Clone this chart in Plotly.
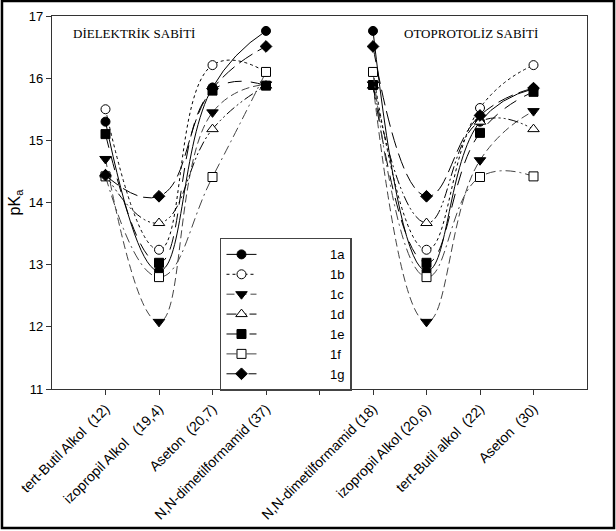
import plotly.graph_objects as go

# Categories (x positions 0..8, position 4 is an empty gap)
tick_vals = [0, 1, 2, 3, 5, 6, 7, 8]
tick_labels = [
    "tert-Butil Alkol  (12)",
    "izopropil Alkol   (19,4)",
    "Aseton  (20,7)",
    "N,N-dimetilformamid (37)",
    "N,N-dimetilformamid (18)",
    "izopropil Alkol (20,6)",
    "tert-Butil alkol  (22)",
    "Aseton  (30)",
]
x_left = [0, 1, 2, 3]
x_right = [5, 6, 7, 8]

series_names = ["1a", "1b", "1c", "1d", "1e", "1f", "1g"]

# Dielectric-constant ordering: tBuOH, iPrOH, Aseton, DMF
left_1a = [15.30, 12.90, 15.85, 16.76]
left_1b = [15.50, 13.24, 16.21, 16.10]
left_1c = [14.70, 12.08, 15.45, 15.90]
left_1d = [14.45, 13.67, 15.18, 15.88]
left_1e = [15.10, 13.03, 15.80, 15.88]
left_1f = [14.42, 12.80, 14.41, 16.10]
left_1g = [14.44, 14.10, 15.83, 16.51]

# Autoprotolysis ordering: DMF, iPrOH, tBuOH, Aseton
right_1a = [16.76, 12.90, 15.30, 15.83]
right_1b = [16.10, 13.24, 15.52, 16.21]
right_1c = [15.90, 12.08, 14.68, 15.47]
right_1d = [15.88, 13.67, 15.30, 15.18]
right_1e = [15.89, 13.03, 15.12, 15.78]
right_1f = [16.10, 12.80, 14.41, 14.42]
right_1g = [16.51, 14.10, 15.40, 15.84]

left_vals = [left_1a, left_1b, left_1c, left_1d, left_1e, left_1f, left_1g]
right_vals = [right_1a, right_1b, right_1c, right_1d, right_1e, right_1f, right_1g]

styles = [
    dict(dash="solid", symbol="circle", fill="black", lc="black"),
    dict(dash="dot", symbol="circle", fill="white", lc="black"),
    dict(dash="8px,4px", symbol="triangle-down", fill="black", lc="#444"),
    dict(dash="10px,3px,2px,3px,2px,3px", symbol="triangle-up", fill="white", lc="black"),
    dict(dash="14px,9px", symbol="square", fill="black", lc="black"),
    dict(dash="10px,4px,2px,4px", symbol="square", fill="white", lc="#444"),
    dict(dash="16px,6px", symbol="diamond", fill="black", lc="black"),
]

pad = "\u00a0" * 19
fig = go.Figure()
for name, lv, rv, st in zip(series_names, left_vals, right_vals, styles):
    for xs, ys, show in ((x_left, lv, True), (x_right, rv, False)):
        fig.add_trace(go.Scatter(
            x=xs, y=ys, name=pad + name, legendgroup=name, showlegend=show,
            mode="lines+markers",
            line=dict(color=st["lc"], width=1, dash=st["dash"], shape="spline", smoothing=1.3),
            marker=dict(symbol=st["symbol"], size=10 if "triangle" in st["symbol"] else 9,
                        color=st["fill"], line=dict(color="black", width=1)),
        ))

axis_color = "#333333"
sans = "Liberation Sans, Arial, sans-serif"
fig.update_layout(
    width=616, height=531,
    margin=dict(l=52, r=29, t=16, b=142),
    paper_bgcolor="white", plot_bgcolor="white",
    font=dict(family=sans, color="black", size=12),
    xaxis=dict(range=[-1, 9], tickvals=tick_vals, ticktext=tick_labels,
               tickangle=-45, ticks="outside", ticklen=5, tickcolor=axis_color,
               minor=dict(tickvals=[4], ticks="outside", ticklen=5, tickcolor=axis_color),
               showline=True, linecolor=axis_color, linewidth=1.3, mirror=True,
               showgrid=False, zeroline=False, automargin=False,
               tickfont=dict(family=sans, size=14, color="black")),
    yaxis=dict(range=[11, 17], tickvals=[11, 12, 13, 14, 15, 16, 17],
               ticks="outside", ticklen=5, tickcolor=axis_color,
               showline=True, linecolor=axis_color, linewidth=1.3, mirror=True,
               showgrid=False, zeroline=False, automargin=False,
               tickfont=dict(family=sans, size=13, color="black"),
               title=dict(text="pK<sub>a</sub>", font=dict(family=sans, size=16, color="black"),
                          standoff=4)),
    legend=dict(x=0.314, y=0.405, xanchor="left", yanchor="top",
                bordercolor="#444", borderwidth=1.5, bgcolor="white",
                font=dict(family=sans, size=13, color="black"), tracegroupgap=0),
    showlegend=True,
)

fig.add_annotation(text="DİELEKTRİK SABİTİ", xref="paper", yref="paper",
                   x=0.035, y=0.954, xanchor="left", yanchor="middle", showarrow=False,
                   font=dict(family="Liberation Serif, Times New Roman, serif", size=13, color="black"))
fig.add_annotation(text="OTOPROTOLİZ SABİTİ", xref="paper", yref="paper",
                   x=0.655, y=0.954, xanchor="left", yanchor="middle", showarrow=False,
                   font=dict(family="Liberation Serif, Times New Roman, serif", size=13, color="black"))

# outer frame around the whole picture
fig.add_shape(type="rect", xref="paper", yref="paper",
              x0=-0.0935, x1=1.0505, y0=-0.3727, y1=1.040,
              line=dict(color="black", width=2.5), layer="above")

fig.write_html("out.html")
